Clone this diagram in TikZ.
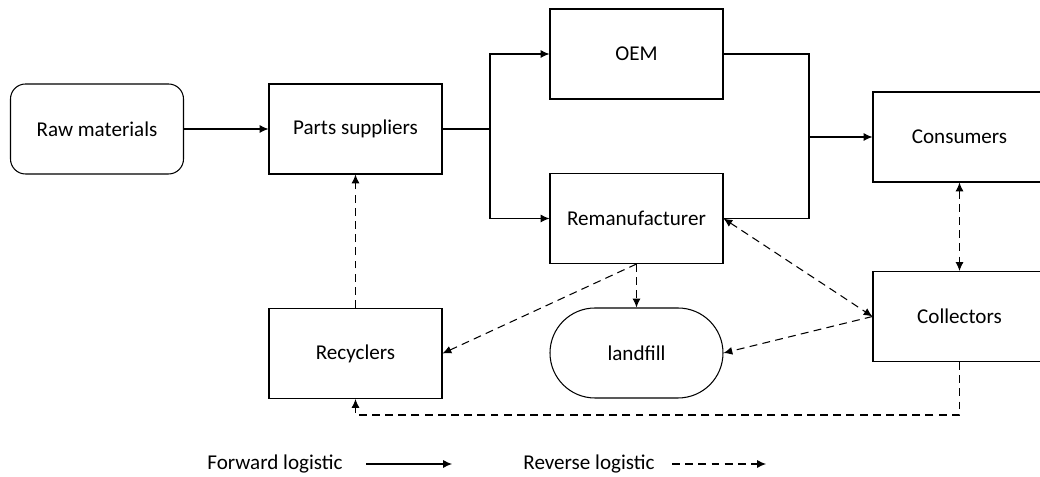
\documentclass[tikz,border=0pt]{standalone}
\usepackage{fontspec}
\setmainfont{Carlito}
\usetikzlibrary{arrows.meta}

\tikzset{
    fwd/.style={-{Latex[length=5pt,width=4.5pt]},line width=0.6pt},
    rev/.style={-{Latex[length=5pt,width=4.5pt]},line width=0.6pt,dash pattern=on 4.5pt off 3pt},
    stagebox/.style={draw,line width=0.6pt,minimum width=3.46cm,minimum height=1.8cm,font=\fontsize{12}{14}\selectfont}
}

\begin{document}
\begin{tikzpicture}
            \useasboundingbox (0,0) rectangle (20.8,-9.54);

            \begin{scope}[every node/.style={stagebox}]
                \node[rounded corners=0.3cm] (raw) at (1.94,-2.58) {Raw materials};
                \node (parts) at (7.11,-2.58) {Parts suppliers};
                \node (oem) at (12.73,-1.08) {OEM};
                \node (reman) at (12.73,-4.37) {Remanufacturer};
                \node (consumers) at (19.19,-2.74) {Consumers};
                \node (collectors) at (19.19,-6.33) {Collectors};
                \node (recyclers) at (7.11,-7.07) {Recyclers};
                \node[rounded corners=0.9cm] (landfill) at (12.73,-7.06) {landfill};
            \end{scope}

            \coordinate (split) at (9.8,-2.58);
            \coordinate (merge) at (16.18,-2.74);
            \coordinate (loop) at (7.11,-8.3);

            % forward flow
            \draw[fwd] (raw) -- (parts);
            \draw[line width=0.6pt] (parts.east) -- (split);
            \draw[fwd] (split) |- (oem.west);
            \draw[fwd] (split) |- (reman.west);
            \draw[line width=0.6pt] (oem.east) -| (merge) |- (reman.east);
            \draw[fwd] (merge) -- (consumers.west);

            % reverse flow
            \draw[rev,{Latex[length=5pt,width=4.5pt]}-{Latex[length=5pt,width=4.5pt]}] (consumers) -- (collectors);
            \draw[rev,{Latex[length=5pt,width=4.5pt]}-{Latex[length=5pt,width=4.5pt]}] (reman.east) -- (collectors.west);
            \draw[rev] (collectors.west) -- (landfill.east);
            \draw[rev] (reman.south) -- (landfill.north);
            \draw[rev] (reman.south) -- (recyclers.east);
            \draw[rev] (recyclers) -- (parts);
            \draw[rev] (collectors.south) |- (loop) -- (recyclers.south);

            % legend
            \begin{scope}[every node/.style={font=\fontsize{12}{14}\selectfont}]
                \node (fwdlbl) at (5.5,-9.28) {Forward logistic};
                \node (revlbl) at (11.78,-9.28) {Reverse logistic};
            \end{scope}
            \coordinate (fa) at (7.32,-9.28);
            \coordinate (fb) at (9.04,-9.28);
            \coordinate (ra) at (13.44,-9.28);
            \coordinate (rb) at (15.32,-9.28);
            \draw[fwd] (fa) -- (fb);
            \draw[rev] (ra) -- (rb);
\end{tikzpicture}
\end{document}
